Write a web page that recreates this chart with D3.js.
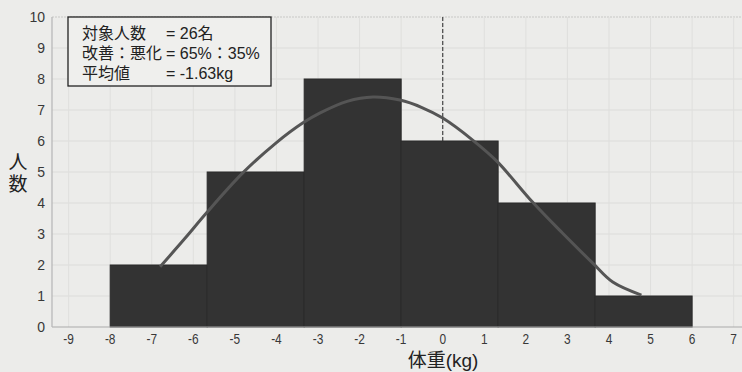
<!DOCTYPE html>
<html><head><meta charset="utf-8">
<script src="https://cdn.jsdelivr.net/npm/d3@7"></script>
<style>
html,body{margin:0;padding:0;background:#ececea;}
svg{display:block;}
text{font-family:"Noto Sans CJK JP","Noto Sans",sans-serif;}
</style></head>
<body><svg id="c" width="742" height="372"></svg>
<script>
// ---- data ----
const binEdges = [-8, -5.667, -3.333, -1.0, 1.333, 3.667, 6.0];
const binCounts = [2, 5, 8, 6, 4, 1];
const curveX = [-6.80, -6.2, -5.67, -4.81, -4.0, -3.37, -2.96, -2.3, -1.68, -1.03, -0.5, 0, 0.72, 1.30, 2.16, 2.88, 3.61, 4.09, 4.78];
const curveY = [1.94, 2.86, 3.70, 4.97, 5.95, 6.58, 6.90, 7.28, 7.42, 7.32, 7.08, 6.74, 6.03, 5.35, 4.03, 3.03, 2.06, 1.45, 1.03];
const xTicks = [-9, -8, -7, -6, -5, -4, -3, -2, -1, 0, 1, 2, 3, 4, 5, 6, 7];
const yTicks = [0, 1, 2, 3, 4, 5, 6, 7, 8, 9, 10];
const legendLabels = ["対象人数", "改善：悪化", "平均値"];
const legendValues = ["= 26名", "= 65%：35%", "= -1.63kg"];
const refLineX = 0;

// ---- layout ----
const svg = d3.select("#c");
const x = d3.scaleLinear().domain([-9.4, 7.2]).range([52, 742]);
const y = d3.scaleLinear().domain([0, 10]).range([327, 17]);

// grid
const g = svg.append("g");
g.selectAll(".hg").data(yTicks.slice(1)).join("line")
  .attr("x1", x(-9.4)).attr("x2", 742)
  .attr("y1", d => y(d)).attr("y2", d => y(d))
  .attr("stroke", d => d === 10 ? "#c8c8c6" : "#dcdcda").attr("stroke-width", 1)
  .attr("stroke-dasharray", d => d === 10 ? "2,1" : null);
g.selectAll(".vg").data(xTicks).join("line")
  .attr("x1", d => x(d)).attr("x2", d => x(d))
  .attr("y1", y(10)).attr("y2", y(0))
  .attr("stroke", "#dfdfdd").attr("stroke-width", 1);

// dashed reference line
svg.append("line")
  .attr("x1", x(refLineX)).attr("x2", x(refLineX))
  .attr("y1", y(10)).attr("y2", y(6))
  .attr("stroke", "#444").attr("stroke-width", 1.2).attr("stroke-dasharray", "4,2");

// bars
const bins = binCounts.map((c, i) => ({x0: binEdges[i], x1: binEdges[i + 1], c}));
svg.selectAll(".bar").data(bins).join("rect")
  .attr("x", d => x(d.x0)).attr("width", d => x(d.x1) - x(d.x0))
  .attr("y", d => y(d.c)).attr("height", d => y(0) - y(d.c))
  .attr("fill", "#333333").attr("stroke", "#2a2a2a").attr("stroke-width", 1);

// axes lines
svg.append("line").attr("x1", x(-9.4)).attr("x2", 742).attr("y1", y(0)).attr("y2", y(0))
  .attr("stroke", "#aaa").attr("stroke-width", 1.2);
svg.append("line").attr("x1", x(-9.4)).attr("x2", x(-9.4)).attr("y1", y(10)).attr("y2", y(0))
  .attr("stroke", "#b5b5b5").attr("stroke-width", 1.2);

// normal curve
const pts = curveX.map((v, i) => [v, curveY[i]]);
svg.append("path").datum(pts)
  .attr("d", d3.line().x(d => x(d[0])).y(d => y(d[1])).curve(d3.curveCatmullRom))
  .attr("fill", "none").attr("stroke", "#555").attr("stroke-width", 3);

// tick labels
svg.selectAll(".yt").data(yTicks).join("text")
  .attr("x", 45).attr("y", d => y(d) + 5).attr("text-anchor", "end")
  .attr("font-size", 14).attr("fill", "#383838")
  .style("font-family", "'Liberation Sans', Arial, sans-serif")
  .text(d => d);
svg.selectAll(".xt").data(xTicks).join("text")
  .attr("x", d => x(d)).attr("y", 344).attr("text-anchor", "middle")
  .attr("font-size", 14).attr("fill", "#383838")
  .attr("transform", d => `translate(${x(d)},0) scale(0.85,1) translate(${-x(d)},0)`)
  .style("font-family", "'Liberation Sans', Arial, sans-serif")
  .text(d => d);

// axis titles
svg.append("text").attr("x", 443).attr("y", 367).attr("text-anchor", "middle")
  .attr("font-size", 19).attr("fill", "#222")
  .style("font-family", "'Liberation Sans', 'Noto Sans CJK JP', sans-serif")
  .text("体重(kg)");
svg.append("text").attr("x", 18).attr("y", 152).attr("text-anchor", "start")
  .style("writing-mode", "vertical-rl").style("text-orientation", "upright")
  .attr("letter-spacing", 3)
  .attr("font-size", 19).attr("fill", "#222").text("人数");

// legend box
svg.append("rect").attr("x", 68).attr("y", 17).attr("width", 203).attr("height", 69)
  .attr("fill", "#efefed").attr("stroke", "#222").attr("stroke-width", 1.3);
const leg = svg.append("text").attr("font-size", 16).attr("fill", "#222")
  .style("font-family", "'Liberation Sans', 'Noto Sans CJK JP', sans-serif");
legendLabels.forEach((t, i) => {
  leg.append("tspan").attr("x", 82).attr("y", 39 + i * 20).text(t);
  leg.append("tspan").attr("x", 166).attr("y", 39 + i * 20).text(legendValues[i]);
});
</script></body></html>
